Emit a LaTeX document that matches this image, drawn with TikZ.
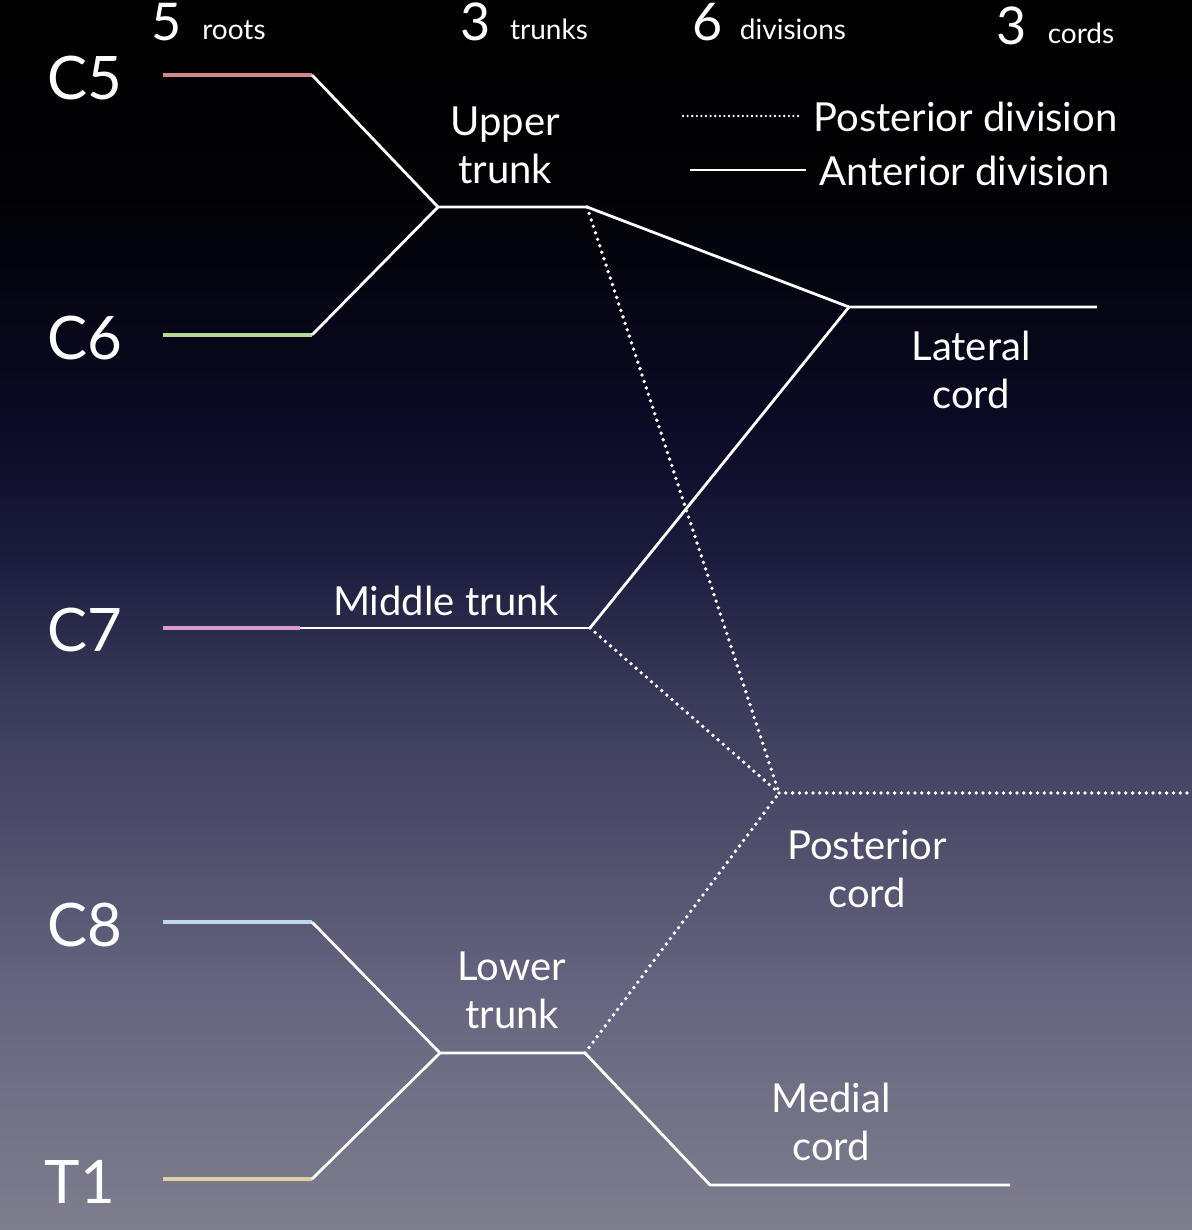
\documentclass[tikz,border=0pt]{standalone}
\usepackage{fontspec}
\setmainfont{Lato}
\usepackage{tikz}
\usetikzlibrary{positioning,calc}
\usepackage{xcolor}
\definecolor{bgA}{HTML}{7E7E8E}
\definecolor{bgB}{HTML}{666680}
\definecolor{bgC}{HTML}{3A3A5A}
\definecolor{bgM}{HTML}{1C1C3E}
\definecolor{bgD}{HTML}{0A0A24}
\definecolor{bgE}{HTML}{020206}
\definecolor{rootC5}{HTML}{D08888}
\definecolor{rootC6}{HTML}{B4DA96}
\definecolor{rootC7}{HTML}{D89CD0}
\definecolor{rootC8}{HTML}{C0D8EE}
\definecolor{rootT1}{HTML}{DED0A2}
\pgfdeclareverticalshading{bgfade}{100bp}{color(0bp)=(bgA); color(25bp)=(bgA); color(34.3bp)=(bgB); color(46.5bp)=(bgC); color(52.2bp)=(bgM); color(57.9bp)=(bgD); color(66.9bp)=(bgE); color(75bp)=(black); color(100bp)=(black)}

\begin{document}
\begin{tikzpicture}[x=0.5pt,y=-0.5pt, every node/.style={text=white,inner sep=0pt}]
\tikzstyle{nerve}=[draw=white,line width=1.4pt]
\tikzstyle{root}=[line width=1.8pt]
\tikzstyle{post}=[draw=white,line width=1.9pt,line cap=round,dash pattern=on 0pt off 3.4pt]
\tikzstyle{lbl}=[align=center,font=\fontsize{20}{24}\selectfont]
\tikzstyle{rootlbl}=[font=\fontsize{30}{36}\selectfont]
\tikzstyle{num}=[anchor=base,font=\fontsize{26}{31}\selectfont]
\tikzstyle{head}=[anchor=base,font=\fontsize{14}{17}\selectfont]
\useasboundingbox (0,0) rectangle (1192,1230);
\shade[shading=bgfade] (0,0) rectangle (1192,1230);
\node[num] (nroots) at (167,41) {5};
\node[head] (hroots) at (234,40) {roots};
\node[num] (ntrunks) at (476,41) {3};
\node[head] (htrunks) at (549,40) {trunks};
\node[num] (ndiv) at (708,41) {6};
\node[head] (hdiv) at (793,40) {divisions};
\node[num] (ncords) at (1012,45) {3};
\node[head] (hcords) at (1081,44) {cords};
\node[rootlbl] (lC5) at (85,78) {C5};
\node[rootlbl] (lC6) at (85,338) {C6};
\node[rootlbl] (lC7) at (85,630) {C7};
\node[rootlbl] (lC8) at (85,925) {C8};
\node[rootlbl] (lT1) at (80,1182) {T1};
\coordinate (c5a) at (163,75);
\coordinate (c5b) at (312,75);
\coordinate (c6a) at (163,335);
\coordinate (c6b) at (312,335);
\coordinate (c7a) at (163,628);
\coordinate (c7b) at (300,628);
\coordinate (c8a) at (163,922);
\coordinate (c8b) at (312,922);
\coordinate (t1a) at (163,1179);
\coordinate (t1b) at (312,1179);
\coordinate (ut1) at (438,207);
\coordinate (ut2) at (587,207);
\coordinate (mt) at (590,628);
\coordinate (lt1) at (440,1053);
\coordinate (lt2) at (585,1053);
\coordinate (lc1) at (849,307);
\coordinate (lc2) at (1097,307);
\coordinate (pc1) at (779,793);
\coordinate (pc2) at (1192,793);
\coordinate (mc1) at (710,1185);
\coordinate (mc2) at (1010,1185);
\coordinate (legP1) at (683,116);
\coordinate (legP2) at (800,116);
\coordinate (legA1) at (690,170);
\coordinate (legA2) at (806,170);
\draw[root,rootC5] (c5a) -- (c5b);
\draw[root,rootC6] (c6a) -- (c6b);
\draw[root,rootC7] (c7a) -- (c7b);
\draw[root,rootC8] (c8a) -- (c8b);
\draw[root,rootT1] (t1a) -- (t1b);
\draw[nerve] (c5b) -- (ut1) -- (ut2);
\draw[nerve] (c6b) -- (ut1);
\draw[nerve] (c7b) -- (mt);
\draw[nerve] (c8b) -- (lt1) -- (lt2);
\draw[nerve] (t1b) -- (lt1);
\draw[nerve] (ut2) -- (lc1) -- (lc2);
\draw[nerve] (mt) -- (lc1);
\draw[nerve] (lt2) -- (mc1) -- (mc2);
\draw[post] (ut2) -- (pc1);
\draw[post] (mt) -- (pc1);
\draw[post] (lt2) -- (pc1);
\draw[post] (pc1) -- (pc2);
\draw[post,line width=1.3pt,dash pattern=on 0pt off 2.3pt] (legP1) -- (legP2);
\draw[nerve] (legA1) -- (legA2);
\node[lbl,anchor=west] (tpost) at (813,117) {Posterior division};
\node[lbl,anchor=west] (tant) at (819,171) {Anterior division};
\node[lbl] (tupper) at (505,145) {Upper\\trunk};
\node[lbl] (tmiddle) at (446,601) {Middle trunk};
\node[lbl] (tlower) at (512,990) {Lower\\trunk};
\node[lbl] (tlateral) at (971,370) {Lateral\\cord};
\node[lbl] (tposterior) at (867,869) {Posterior\\cord};
\node[lbl] (tmedial) at (831,1122) {Medial\\cord};
\end{tikzpicture}
\end{document}
